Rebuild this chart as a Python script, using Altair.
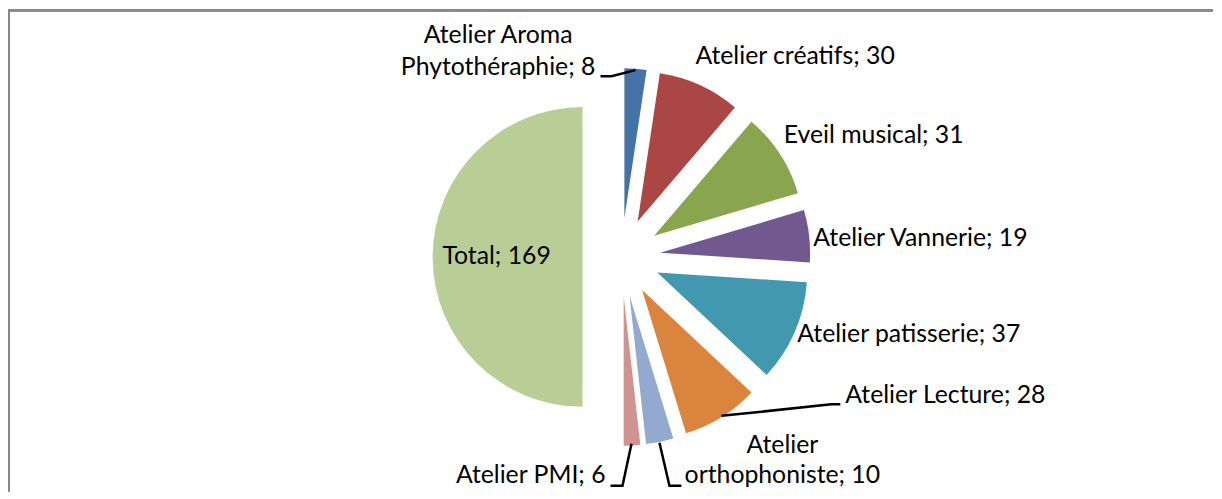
import altair as alt
import pandas as pd

# ---- data ----
categories = ["Atelier Aroma Phytothéraphie", "Atelier créatifs", "Eveil musical",
              "Atelier Vannerie", "Atelier patisserie", "Atelier Lecture",
              "Atelier orthophoniste", "Atelier PMI", "Total"]
values = [8, 30, 31, 19, 37, 28, 10, 6, 169]
colors = ["#4572A7", "#AA4643", "#89A54E", "#71588F", "#4198AF",
          "#DB843D", "#93A9CF", "#D19392", "#B9CD96"]

# ---- layout (pixel positions in the plot area; page origin is 8,8) ----
O = 8
W, H = 1206, 483
CX, CY, R, EXPLODE = 622 - O, 256 - O, 150, 39
FONT = "Lato"
FS = 24.8

# where label text wraps (chars of first line) ; None = single line
wrap_after = [13, None, None, None, None, None, 7, None, None]
# label anchor per line: x, baseline y, align
label_pos = [
    [(498.5, 41.7, "center"), (498.5, 73.5, "center")],
    [(696, 63.3, "left")],
    [(784.5, 141.7, "left")],
    [(814, 244.5, "left")],
    [(798, 340.7, "left")],
    [(846, 401.7, "left")],
    [(783, 451.7, "center"), (783, 481.7, "center")],
    [(606, 481.7, "right")],
    [(497, 263.3, "center")],
]
leaders = {
    0: [(601, 75), (612, 75), (636, 69)],
    5: [(722, 415), (832, 403.5), (841, 403.5)],
    6: [(660, 442), (670, 485), (682, 485)],
    7: [(632, 443), (623, 485), (611, 485)],
}

# ---- tables ----
df = pd.DataFrame({"cat": categories, "value": values, "idx": list(range(len(values)))})

rows = []
for i, (c, v) in enumerate(zip(categories, values)):
    full = f"{c}; {v}"
    n = wrap_after[i]
    lines = [full] if n is None else [full[:n], full[n + 1:]]
    for line, (x, y, a) in zip(lines, label_pos[i]):
        rows.append({"text": line, "x": x - O, "y": y - O, "align": a})
labels = pd.DataFrame(rows)

lrows = []
for k, pts in leaders.items():
    for j, (x, y) in enumerate(pts):
        lrows.append({"lid": k, "ord": j, "x": x - O, "y": y - O})
lead = pd.DataFrame(lrows)

# ---- chart ----
pie = alt.Chart(df).transform_window(
    cum="sum(value)", sort=[alt.SortField("idx")], frame=[None, 0]
).transform_joinaggregate(
    total="sum(value)"
).transform_calculate(
    t0="(datum.cum - datum.value) / datum.total * 2 * PI",
    t1="datum.cum / datum.total * 2 * PI",
).transform_calculate(
    px=f"{CX} + {EXPLODE} * sin((datum.t0 + datum.t1) / 2)",
    py=f"{CY} - {EXPLODE} * cos((datum.t0 + datum.t1) / 2)",
).mark_arc(outerRadius=R).encode(
    theta=alt.Theta("t0:Q", scale=None, stack=None),
    theta2="t1:Q",
    x=alt.X("px:Q", scale=None, axis=None, stack=None),
    y=alt.Y("py:Q", scale=None, axis=None, stack=None),
    color=alt.Color("cat:N", scale=alt.Scale(domain=categories, range=colors), legend=None),
)

def text_layer(a):
    return alt.Chart(labels).transform_filter(
        alt.datum.align == a
    ).mark_text(font=FONT, fontSize=FS, color="black", align=a, baseline="alphabetic").encode(
        x=alt.X("x:Q", scale=None, axis=None),
        y=alt.Y("y:Q", scale=None, axis=None),
        text="text:N",
    )

lines = alt.Chart(lead).mark_line(color="black", strokeWidth=2.5).encode(
    x=alt.X("x:Q", scale=None, axis=None),
    y=alt.Y("y:Q", scale=None, axis=None),
    detail="lid:N",
    order="ord:Q",
)

top_border = alt.Chart(df).mark_rule(color="#898989", strokeWidth=2).encode(
    x=alt.value(1), x2=alt.value(W), y=alt.value(1)
)
left_border = alt.Chart(df).mark_rule(color="#898989", strokeWidth=2).encode(
    x=alt.value(1), y=alt.value(0), y2=alt.value(H)
)

chart = alt.layer(
    pie, lines, text_layer("left"), text_layer("center"), text_layer("right"),
    top_border, left_border
).properties(width=W, height=H, padding=0).configure_view(stroke=None)

chart.save("out.html", embed_options={"renderer": "svg", "actions": False})
